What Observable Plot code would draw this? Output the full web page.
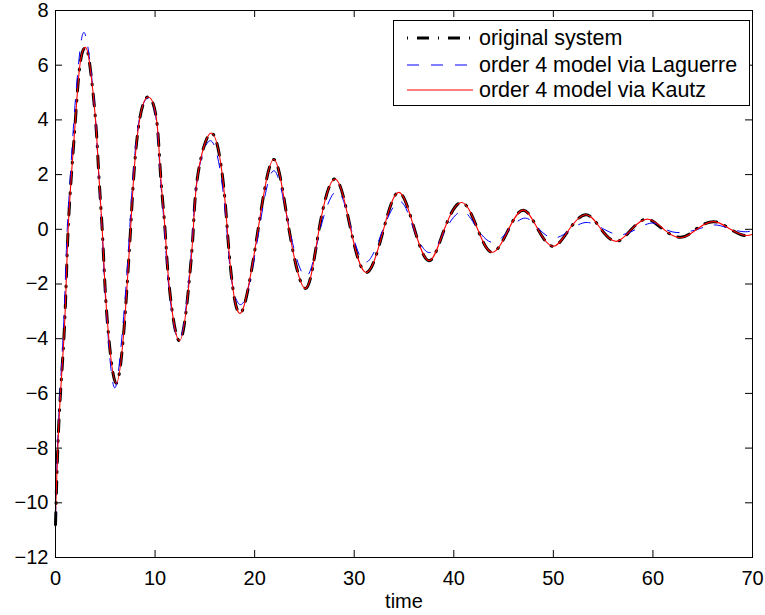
<!DOCTYPE html>
<html>
<head>
<meta charset="utf-8">
<script src="https://cdn.jsdelivr.net/npm/d3@7"></script>
<script src="https://cdn.jsdelivr.net/npm/@observablehq/plot@0.6"></script>
<style>
  html, body { margin: 0; padding: 0; background: #fff; }
  #wrap { position: relative; width: 765px; height: 615px; font-family: "Liberation Sans", Arial, Helvetica, sans-serif; }
  #legend { position: absolute; left: 393px; top: 20px; width: 357px; height: 86px; border: 1px solid #000; background: #fff; box-sizing: border-box; }
  .row { position: absolute; left: 0; height: 26px; display: flex; align-items: center; }
  .row svg { margin-left: 13px; }
  .row span { margin-left: 6px; font-size: 21.5px; color: #000; white-space: nowrap; }
</style>
</head>
<body>
<div id="wrap"></div>
<script>
// ---- data ----
const xTicks = [0, 10, 20, 30, 40, 50, 60, 70];
const yTicks = [-12, -10, -8, -6, -4, -2, 0, 2, 4, 6, 8];
const seriesNames = ["original system", "order 4 model via Laguerre", "order 4 model via Kautz"];

// original system
const tOrig = [0,0.23,0.5,0.84,1.07,1.27,1.6,2.0,2.45,3.0,
  3.45,4.02,4.35,4.69,4.96,5.36,6.1,6.8,7.2,7.54,
  7.87,8.44,9.31,10.15,10.55,11.0,11.4,12.45,13.4,13.84,
  14.3,15.65,16.75,17.25,17.76,18.76,20.35,21.94,23.45,25.13,
  26.47,28.1,29.65,31.25,32.95,34.5,36.05,37.55,39.05,40.8,
  42.4,43.9,45.5,47.0,48.45,50.0,51.6,53.3,54.8,56.35,
  57.85,59.4,61.0,62.8,64.3,66.1,67.8,69.2,70];
const yOrig = [-10.8,-8,-6,-4,-2,0,2,4,6,6.65,
  6,4,2,0,-2,-4,-5.63,-4,-2,0,
  2,4,4.84,4,2,0,-2,-4.08,-2,0,
  2,3.52,2,0,-2,-2.98,0,2.55,0,-2.16,
  0,1.84,0,-1.58,0,1.35,0,-1.15,0,0.98,
  0,-0.84,0,0.7,0,-0.62,0,0.53,0,-0.44,
  0,0.37,0,-0.29,0,0.28,0,-0.23,-0.16];

// order 4 model via Laguerre
const tLag = [0,0.2,0.45,0.75,0.98,1.18,1.5,1.85,2.3,2.85,
  3.5,4.02,4.34,4.67,4.94,5.3,5.95,6.65,7.1,7.45,
  7.8,8.4,9.3,10.12,10.52,10.95,11.35,12.4,13.35,13.8,
  14.3,15.55,16.6,17.2,17.75,18.95,20.45,21.95,23.5,25.2,
  26.6,28.3,29.7,31.2,32.9,34.6,36.0,37.6,39.2,40.9,
  42.4,44.0,45.6,47.2,48.6,50.1,51.8,53.4,55.1,56.7,
  58.3,60.0,61.3,62.7,64.5,66.2,67.9,69.3,70];
const yLag = [-10.6,-8,-6,-4,-2,0,2,4,6,7.2,
  6,4,2,0,-2,-4,-5.8,-4,-2,0,
  2,4,4.8,4,2,0,-2,-4.05,-2,0,
  2,3.24,2,0,-2,-2.62,0,2.14,0,-1.72,
  0,1.39,0,-1.2,0,1.02,0,-0.85,0,0.65,
  0,-0.48,0,0.41,0,-0.32,0,0.25,0,-0.2,
  0,0.23,0,-0.12,0,0.16,0,-0.09,-0.04];

// order 4 model via Kautz
const tKau = [0,0.23,0.5,0.84,1.07,1.27,1.6,2.0,2.45,3.0,
  3.45,4.02,4.35,4.69,4.96,5.36,6.1,6.8,7.2,7.54,
  7.87,8.44,9.31,10.15,10.55,11.0,11.4,12.45,13.4,13.84,
  14.3,15.65,16.75,17.25,17.76,18.76,20.35,21.94,23.45,25.13,
  26.47,28.1,29.65,31.25,32.95,34.5,36.05,37.55,39.05,40.8,
  42.4,43.9,45.5,47.0,48.45,50.0,51.6,53.3,54.8,56.35,
  57.85,59.5,61.1,62.8,64.4,66.1,67.8,69.2,70];
const yKau = [-10.4,-8,-6,-4,-2,0,2,4,6,6.65,
  6,4,2,0,-2,-4,-5.63,-4,-2,0,
  2,4,4.84,4,2,0,-2,-4.08,-2,0,
  2,3.52,2,0,-2,-2.98,0,2.55,0,-2.16,
  0,1.84,0,-1.58,0,1.35,0,-1.15,0,0.98,
  0,-0.84,0,0.7,0,-0.62,0,0.53,0,-0.44,
  0,0.37,0,-0.31,0,0.28,0,-0.22,-0.18];

// ---- build tables ----
const toRows = (ts, ys) => ts.map((t, i) => ({t, v: ys[i]}));
const origRows = toRows(tOrig, yOrig);
const lagRows = toRows(tLag, yLag);
const kauRows = toRows(tKau, yKau);

const W = 765, H = 615;
const mL = 55, mR = 13, mT = 10, mB = 58;
const frameW = W - mL - mR, frameH = H - mT - mB;
const tick = 7;

const styles = {
  orig: {stroke: "#000000", strokeWidth: 3, dash: "12,9,1,9"},
  lag: {stroke: "#0000ff", strokeWidth: 1, dash: "12,12"},
  kau: {stroke: "#ff0000", strokeWidth: 1.1, dash: null}
};

const chart = Plot.plot({
  width: W,
  height: H,
  marginLeft: mL,
  marginRight: mR,
  marginTop: mT,
  marginBottom: mB,
  style: {fontFamily: '"Liberation Sans", Arial, Helvetica, sans-serif', fontSize: "20px", color: "#000", background: "#fff", overflow: "visible"},
  x: {domain: [0, 70]},
  y: {domain: [-12, 8]},
  marks: [
    Plot.line(origRows, {x: "t", y: "v", curve: "natural", stroke: styles.orig.stroke, strokeWidth: styles.orig.strokeWidth, strokeDasharray: styles.orig.dash}),
    Plot.line(lagRows, {x: "t", y: "v", curve: "natural", stroke: styles.lag.stroke, strokeWidth: styles.lag.strokeWidth, strokeDasharray: styles.lag.dash}),
    Plot.line(kauRows, {x: "t", y: "v", curve: "natural", stroke: styles.kau.stroke, strokeWidth: styles.kau.strokeWidth}),
    // inward ticks on all four sides
    Plot.ruleX(xTicks, {x: d => d, insetTop: frameH - tick, stroke: "#000"}),
    Plot.ruleX(xTicks, {x: d => d, insetBottom: frameH - tick, stroke: "#000"}),
    Plot.ruleY(yTicks, {y: d => d, insetRight: frameW - tick, stroke: "#000"}),
    Plot.ruleY(yTicks, {y: d => d, insetLeft: frameW - tick, stroke: "#000"}),
    Plot.frame({stroke: "#000", strokeWidth: 1}),
    Plot.axisX({ticks: xTicks, tickSize: 0, tickPadding: 13, label: null}),
    Plot.axisY({ticks: yTicks, tickSize: 0, tickPadding: 7, label: null}),
    Plot.text(["time"], {frameAnchor: "bottom", dy: 44, lineAnchor: "middle", text: d => d, fontSize: 20, fill: "#000"})
  ]
});

const wrap = document.getElementById("wrap");
wrap.appendChild(chart);

// legend inside the axes, top right
const legend = document.createElement("div");
legend.id = "legend";
const legendItems = [
  {name: seriesNames[0], stroke: styles.orig.stroke, width: styles.orig.strokeWidth, dash: "1,9,12,9"},
  {name: seriesNames[1], stroke: styles.lag.stroke, width: styles.lag.strokeWidth, dash: styles.lag.dash},
  {name: seriesNames[2], stroke: styles.kau.stroke, width: styles.kau.strokeWidth, dash: null}
];
const rowTops = [4, 31, 56];
legendItems.forEach((it, i) => {
  const row = document.createElement("div");
  row.className = "row";
  row.style.top = rowTops[i] + "px";
  const ns = "http://www.w3.org/2000/svg";
  const s = document.createElementNS(ns, "svg");
  s.setAttribute("width", 66);
  s.setAttribute("height", 10);
  const ln = document.createElementNS(ns, "line");
  ln.setAttribute("x1", 0); ln.setAttribute("x2", 66);
  ln.setAttribute("y1", 5); ln.setAttribute("y2", 5);
  ln.setAttribute("stroke", it.stroke);
  ln.setAttribute("stroke-width", it.width);
  if (it.dash) ln.setAttribute("stroke-dasharray", it.dash);
  s.appendChild(ln);
  const sp = document.createElement("span");
  sp.textContent = it.name;
  row.appendChild(s);
  row.appendChild(sp);
  legend.appendChild(row);
});
wrap.appendChild(legend);
</script>
</body>
</html>
